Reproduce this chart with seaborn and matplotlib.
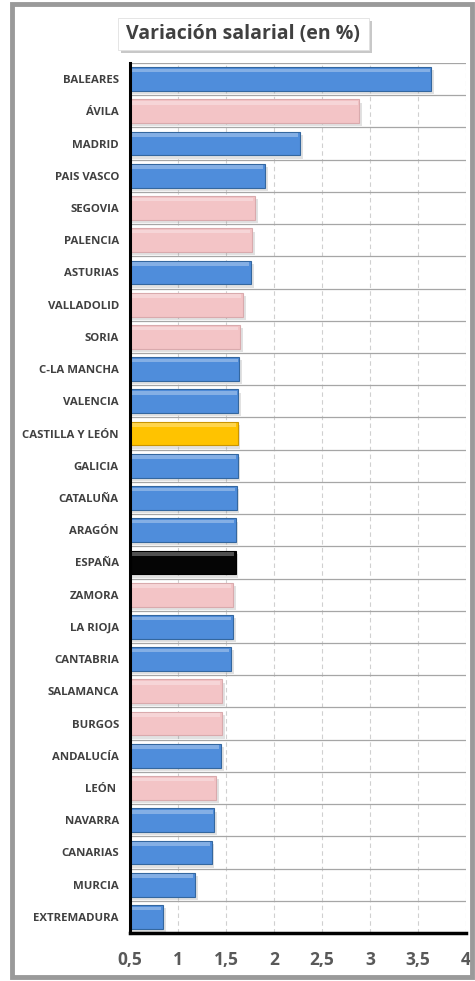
import matplotlib
matplotlib.use('Agg')
import numpy as np
import pandas as pd
import matplotlib.pyplot as plt
import matplotlib.patches as mpatches
import seaborn as sns

regions = ['BALEARES', 'ÁVILA', 'MADRID', 'PAIS VASCO', 'SEGOVIA', 'PALENCIA',
           'ASTURIAS', 'VALLADOLID', 'SORIA', 'C-LA MANCHA', 'VALENCIA',
           'CASTILLA Y LEÓN', 'GALICIA', 'CATALUÑA', 'ARAGÓN', 'ESPAÑA', 'ZAMORA',
           'LA RIOJA', 'CANTABRIA', 'SALAMANCA', 'BURGOS', 'ANDALUCÍA', 'LEÓN ',
           'NAVARRA', 'CANARIAS', 'MURCIA', 'EXTREMADURA']
values = [3.64, 2.89, 2.27, 1.91, 1.80, 1.77, 1.76, 1.68, 1.65, 1.64, 1.63,
          1.62, 1.62, 1.61, 1.60, 1.60, 1.57, 1.57, 1.55, 1.46, 1.46, 1.45,
          1.40, 1.38, 1.35, 1.18, 0.84]
kind = ['ccaa', 'cyl', 'ccaa', 'ccaa', 'cyl', 'cyl', 'ccaa', 'cyl', 'cyl', 'ccaa',
        'ccaa', 'cyl_total', 'ccaa', 'ccaa', 'ccaa', 'spain', 'cyl', 'ccaa', 'ccaa',
        'cyl', 'cyl', 'ccaa', 'cyl', 'ccaa', 'ccaa', 'ccaa', 'ccaa']
x_ticks = [0.5, 1, 1.5, 2, 2.5, 3, 3.5, 4]
x_tick_labels = ['0,5', '1', '1,5', '2', '2,5', '3', '3,5', '4']

palette = {'ccaa': '#4f8ddb', 'cyl': '#f3c4c6', 'cyl_total': '#ffc300', 'spain': '#050505'}
edges = {'ccaa': '#34679f', 'cyl': '#d9aaad', 'cyl_total': '#c99400', 'spain': '#000000'}

df = pd.DataFrame({'region': regions, 'value': values, 'kind': kind})

sns.set_style('white')
plt.rcParams['font.family'] = ['Open Sans', 'DejaVu Sans']

fig = plt.figure(figsize=(4.75, 9.81), dpi=100)
ax = fig.add_axes([0.2737, 0.0489, 0.7074, 0.8869])

sns.barplot(data=df, x='value', y='region', hue='kind', palette=palette,
            dodge=False, legend=False, width=0.74, saturation=1, ax=ax, orient='h')

for bar in list(ax.patches):
    if bar.get_width() <= 0:
        continue
    i = int(round(bar.get_y() + bar.get_height() / 2))
    k = kind[i]
    bar.set_edgecolor(edges[k])
    bar.set_linewidth(0.8)
    y0, h, w = bar.get_y(), bar.get_height(), bar.get_width()
    # soft shadow under the bar
    ax.add_patch(mpatches.Rectangle((0.5, y0 + 0.1), w - 0.5 + 0.03, h,
                                    color='#888888', alpha=0.25, lw=0,
                                    zorder=bar.get_zorder() - 0.5))
    # light highlight along the top of each bar
    ax.add_patch(mpatches.Rectangle((0.5, y0 + 0.05), w - 0.5 - 0.02, h * 0.15,
                                    color='white', alpha=0.3, lw=0,
                                    zorder=bar.get_zorder() + 1))

ax.set_xlim(0.5, 4)
ax.set_ylim(len(regions) - 0.5, -0.5)
ax.set_xticks(x_ticks)
ax.set_xticklabels(x_tick_labels, fontsize=12.5, fontweight='bold', color='#595959')
ax.set_yticks(range(len(regions)))
ax.set_yticklabels(regions, fontsize=8.2, fontweight='bold', color='#404040')
ax.set_xlabel('')
ax.set_ylabel('')

for xv in x_ticks[1:]:
    ax.axvline(xv, color='#d0d0d0', lw=0.8, ls=(0, (4, 3)), zorder=0)
for yv in np.arange(-0.5, len(regions) - 0.5, 1):
    ax.axhline(yv, color='#a6a6a6', lw=0.9, zorder=0)

for s in ['top', 'right']:
    ax.spines[s].set_visible(False)
ax.spines['left'].set_linewidth(2.2)
ax.spines['left'].set_color('black')
ax.spines['bottom'].set_linewidth(2.5)
ax.spines['bottom'].set_color('black')
ax.tick_params(axis='x', length=0, pad=13)
ax.set_yticks(np.arange(-0.5, len(regions), 1), minor=True)
ax.tick_params(axis='y', which='minor', length=3, width=1.2, color='black')
ax.tick_params(axis='y', which='major', length=0, pad=8)

# title in a box with shadow
fig.patches.append(mpatches.Rectangle((0.254, 0.9455), 0.53, 0.0326, transform=fig.transFigure,
                                      facecolor='#c8c8c8', edgecolor='none', zorder=1))
fig.patches.append(mpatches.Rectangle((0.248, 0.949), 0.528, 0.0326, transform=fig.transFigure,
                                      facecolor='white', edgecolor='#e0e0e0', lw=0.6, zorder=2))
fig.text(0.512, 0.9653, 'Variación salarial (en %)', ha='center', va='center',
         fontsize=14, fontweight='bold', color='#404040', zorder=3)

# outer frame
fig.patches.append(mpatches.Rectangle((0.025, 0.004), 0.969, 0.992, transform=fig.transFigure,
                                      facecolor='none', edgecolor='#9a9a9a', lw=3.5, zorder=0))

fig.savefig('out.png', dpi=100)
